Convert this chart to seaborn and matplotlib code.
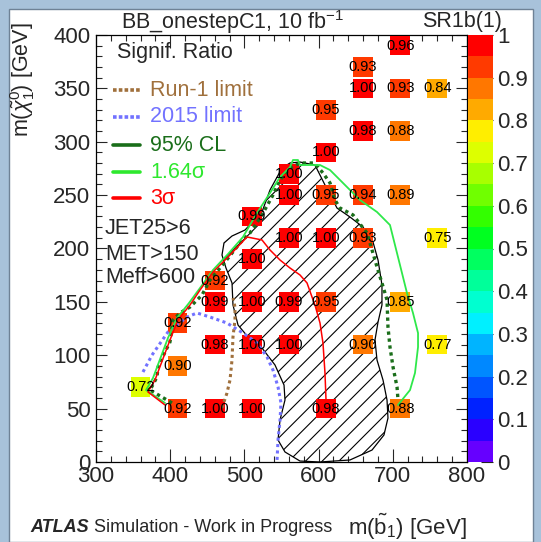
import numpy as np
import pandas as pd
import matplotlib
matplotlib.use("Agg")
import matplotlib.pyplot as plt
from matplotlib.colors import ListedColormap, BoundaryNorm
from matplotlib.cm import ScalarMappable
from matplotlib.patches import Rectangle
from matplotlib.lines import Line2D
import seaborn as sns

# ---------------- data ----------------
m_sbottom = [710, 660, 660, 710, 760, 610, 660, 710, 610, 560,
             560, 610, 660, 710, 510, 560, 610, 660, 760, 510,
             460, 460, 510, 560, 610, 710, 410, 460, 510, 560,
             660, 760, 410, 360, 410, 460, 510, 610, 710]
m_neutralino = [390, 370, 350, 350, 350, 330, 310, 310, 290, 270,
                250, 250, 250, 250, 230, 210, 210, 210, 210, 190,
                170, 150, 150, 150, 150, 150, 130, 110, 110, 110,
                110, 110, 90, 70, 50, 50, 50, 50, 50]
signif_ratio = [0.96, 0.93, 1.00, 0.93, 0.84, 0.948, 0.98, 0.88, 1.00, 1.00,
                1.00, 0.948, 0.94, 0.89, 0.99, 1.00, 1.00, 0.93, 0.75, 1.00,
                0.92, 0.99, 1.00, 0.99, 0.948, 0.848, 0.92, 0.98, 1.00, 1.00,
                0.898, 0.77, 0.898, 0.72, 0.92, 1.00, 1.00, 0.98, 0.88]

# hatched (excluded) region outline
hatch_x = [550.7, 561.5, 574.9, 595.1, 608.6, 624.8, 642.3, 659.8, 673.3, 680.1,
           685.4, 685.4, 680.1, 676.0, 678.7, 686.8, 692.2, 693.5, 688.1, 672.0,
           642.3, 601.9, 574.9, 554.7, 545.3, 548.0, 554.7, 553.4, 541.2, 523.7,
           504.9, 491.4, 484.6, 483.3, 475.2, 469.8, 472.5, 483.3, 500.8, 523.7,
           534.5]
hatch_y = [275.4, 280.1, 281.0, 278.2, 259.5, 237.9, 229.5, 220.1, 206.1, 189.2,
           165.8, 147.1, 131.1, 114.3, 95.6, 76.8, 58.1, 41.2, 25.3, 11.2,
           1.9, 0.0, 0.9, 9.4, 20.6, 39.3, 58.1, 72.1, 90.9, 106.8,
           117.1, 128.3, 147.1, 167.7, 181.7, 193.9, 205.2, 211.7, 217.3, 234.2,
           254.8]

# 3 sigma contour
sig3_x = [393.0, 370.1, 379.5, 399.7, 410.5, 426.7, 440.2, 457.7, 480.6, 503.5,
          523.7, 534.5, 548.0, 561.5, 574.9, 584.4, 591.1, 595.1, 601.9, 605.9,
          608.6, 610.0]
sig3_y = [53.4, 65.6, 76.8, 114.3, 133.1, 147.1, 161.1, 178.0, 193.9, 210.8,
          208.0, 198.6, 189.2, 181.7, 175.2, 167.7, 154.6, 147.1, 130.2, 111.5,
          83.4, 58.0]

# 1.64 sigma contour
sig164_x = [393.0, 367.4, 376.8, 397.0, 409.2, 425.3, 440.2, 457.7, 477.9, 498.1,
            517.0, 534.5, 548.0, 561.5, 565.5, 572.2, 574.9, 601.9, 615.4, 628.8,
            642.3, 655.8, 678.7, 696.2, 709.7, 719.1, 727.2, 734.0, 734.0, 729.9,
            723.2, 712.4, 707.0]
sig164_y = [55.3, 67.4, 78.7, 116.2, 134.9, 148.9, 163.0, 179.9, 194.8, 210.8,
            233.3, 252.0, 267.0, 276.3, 282.9, 282.9, 278.2, 278.2, 273.5, 264.2,
            254.8, 245.4, 234.2, 222.0, 184.5, 158.3, 139.6, 120.8, 107.7, 83.4,
            67.4, 58.1, 53.4]

# 95% CL contour
cl95_x = [402.4, 372.8, 382.2, 383.6, 393.0, 399.7, 403.8, 413.2, 426.7, 442.9,
          453.6, 473.9, 494.1, 507.5, 523.7, 538.5, 548.0, 561.5, 574.9, 592.5,
          599.2, 605.9, 615.4, 622.1, 628.8, 646.4, 665.2, 672.0, 678.7, 685.4,
          692.2, 693.5, 696.2, 700.3, 705.7, 707.0]
cl95_y = [55.3, 67.4, 79.6, 89.0, 103.0, 112.4, 133.0, 139.6, 145.2, 156.4,
          170.5, 187.4, 205.2, 214.5, 231.4, 250.1, 264.2, 275.4, 280.1, 280.1,
          276.3, 270.7, 261.4, 245.4, 237.9, 231.4, 214.5, 198.6, 182.7, 167.7,
          151.8, 126.5, 107.7, 89.0, 70.3, 58.1]

# Run-1 limit
run1_x = [469.8, 476.5, 480.6, 483.3, 484.6, 487.3, 487.3, 484.6]
run1_y = [50.6, 64.6, 76.8, 95.6, 117.1, 133.0, 145.2, 153.6]

# 2015 limit
lim2015_x = [363.3, 375.5, 397.0, 422.6, 436.1, 453.6, 476.5, 498.1, 517.0, 530.5,
             538.5, 545.3, 549.3, 548.0, 545.3, 543.9]
lim2015_y = [84.3, 100.2, 121.8, 135.8, 139.6, 135.8, 130.2, 120.8, 111.5, 98.4,
             86.2, 70.3, 55.3, 39.3, 20.6, 0.0]

x_ticks = [300, 400, 500, 600, 700, 800]
y_ticks = [0, 50, 100, 150, 200, 250, 300, 350, 400]
cbar_ticks = [0, 0.1, 0.2, 0.3, 0.4, 0.5, 0.6, 0.7, 0.8, 0.9, 1.0]
cbar_ticklabels = ["0", "0.1", "0.2", "0.3", "0.4", "0.5", "0.6", "0.7", "0.8", "0.9", "1"]

palette_colors = ["#6600ff", "#2a00ff", "#0022ff", "#0055ff", "#0088ff",
                  "#00b4ff", "#00f0ff", "#00ffd0", "#00ff9a", "#00ff60",
                  "#00ff20", "#33ff00", "#70ff00", "#a8ff00", "#ddff00",
                  "#ffee00", "#ffaa00", "#ff7700", "#ff3a00", "#ff0000"]

# ---------------- style ----------------
sns.set_style("ticks")
plt.rcParams["font.family"] = ["Liberation Sans", "DejaVu Sans"]
plt.rcParams["mathtext.fontset"] = "custom"
plt.rcParams["mathtext.rm"] = "Liberation Sans"
plt.rcParams["mathtext.it"] = "Liberation Sans:italic"
plt.rcParams["mathtext.bf"] = "Liberation Sans:bold"
plt.rcParams["hatch.linewidth"] = 0.8

W, H = 541, 542
fig = plt.figure(figsize=(W / 100, H / 100), dpi=100)
fig.patch.set_facecolor("#a8c2da")
fig.patches.append(Rectangle((9 / W, 0), (533 - 9) / W, (H - 9) / H,
                             transform=fig.transFigure, facecolor="white",
                             edgecolor="#6f8296", linewidth=1.0, zorder=-10))

ax = fig.add_axes([96 / W, 80 / H, 371 / W, 427 / H])
cax = fig.add_axes([468 / W, 80 / H, 25 / W, 427 / H])
ax.set_facecolor("none")

cmap = ListedColormap(palette_colors)
bounds = np.linspace(0, 1, 21)
norm = BoundaryNorm(bounds, cmap.N)

df = pd.DataFrame({"m_sbottom": m_sbottom, "m_chi": m_neutralino, "ratio": signif_ratio})
pal = {v: cmap(norm(v)) for v in sorted(set(signif_ratio))}

# hatched region
ax.fill(hatch_x, hatch_y, facecolor="none", edgecolor="black", hatch="//",
        linewidth=0.9, zorder=2)

sns.scatterplot(data=df, x="m_sbottom", y="m_chi", hue="ratio", palette=pal,
                marker="s", s=200, linewidth=0, legend=False, ax=ax, zorder=3)

# contours
ax.plot(run1_x, run1_y, color="#a0703c", lw=2.2, linestyle=(0, (1, 1.1)), zorder=4)
ax.plot(lim2015_x, lim2015_y, color="#7272ff", lw=2.2, linestyle=(0, (1, 1.1)), zorder=4)
ax.plot(cl95_x, cl95_y, color="#1a6e1a", lw=2.4, linestyle=(0, (1, 1.1)), zorder=4)
ax.plot(sig164_x, sig164_y, color="#2ee84a", lw=1.3, zorder=4)
ax.plot(sig3_x, sig3_y, color="#ff0000", lw=1.1, zorder=4)

# value labels
for xv, yv, v in zip(m_sbottom, m_neutralino, signif_ratio):
    ax.text(xv, yv, f"{v:.2f}", ha="center", va="center", fontsize=10.5,
            color="black", zorder=6)

ax.set_xlim(300, 800)
ax.set_ylim(0, 400)
ax.set_xticks(x_ticks)
ax.set_yticks(y_ticks)
ax.set_xticks(np.arange(300, 801, 20), minor=True)
ax.set_yticks(np.arange(0, 401, 10), minor=True)
ax.set_xlabel("")
ax.set_ylabel("")
ax.tick_params(axis="x", which="major", direction="in", length=9.2, width=0.8,
               top=True, labelsize=16, pad=3)
ax.tick_params(axis="x", which="minor", direction="in", length=4.6, width=0.8, top=True)
ax.tick_params(axis="y", which="major", direction="in", length=8, width=0.8,
               right=True, labelsize=16, pad=4)
ax.tick_params(axis="y", which="minor", direction="in", length=4, width=0.8, right=True)
for sp in ax.spines.values():
    sp.set_visible(True)
    sp.set_linewidth(0.9)
    sp.set_color("black")

# legend block (manual, ROOT style)
tr = ax.transAxes
fs = 15.5
ax.text(0.0566, 0.958, "Signif. Ratio", transform=tr, fontsize=fs, va="center", ha="left", zorder=7)
leg = [("Run-1 limit", "#a0703c", (0, (1, 0.6)), 0.871),
       ("2015 limit", "#7272ff", (0, (1, 0.6)), 0.808),
       ("95% CL", "#1a6e1a", "-", 0.742),
       ("1.64σ", "#2ee82e", "-", 0.679),
       ("3σ", "#ff0000", "-", 0.618)]
for lab, col, ls, yy in leg:
    ax.add_line(Line2D([0.046, 0.119], [yy, yy], transform=tr, color=col, lw=2.6,
                       linestyle=ls, zorder=7))
    ax.text(0.1456, yy, lab, transform=tr, fontsize=fs, va="center", ha="left",
            color=col, zorder=7)
for lab, yy in [("JET25>6", 0.548), ("MET>150", 0.485), ("Meff>600", 0.431)]:
    ax.text(0.0243, yy, lab, transform=tr, fontsize=fs, va="center", ha="left", zorder=7)

# colorbar
sm = ScalarMappable(norm=norm, cmap=cmap)
cb = fig.colorbar(sm, cax=cax, ticks=cbar_ticks)
cb.outline.set_visible(False)
cb.ax.set_yticklabels(cbar_ticklabels)
cb.ax.tick_params(direction="in", length=9, width=0.8, labelsize=16, pad=3,
                  right=True, left=False, color="#222222")
cb.ax.minorticks_off()

# titles and labels
fig.text(233 / W, 1 - 22 / H, "BB_onestepC1, 10 fb$^{-1}$", ha="center", va="center", fontsize=15.5)
fig.text(502 / W, 1 - 22 / H, "SR1b(1)", ha="right", va="center", fontsize=15.5)
fig.text(467 / W, 1 - 527 / H, r"m($\tilde{\mathrm{b}}_{1}$) [GeV]", ha="right", va="center", fontsize=16)
fig.text(23 / W, 1 - 80 / H, r"m($\tilde{\chi}^{0}_{1}$) [GeV]", ha="center", va="center",
         rotation=90, fontsize=15.5)
fig.text(30 / W, 1 - 528 / H, "ATLAS", ha="left", va="center", fontsize=13,
         fontweight="bold", fontstyle="italic")
fig.text(94 / W, 1 - 528 / H, "Simulation - Work in Progress", ha="left", va="center", fontsize=13)

fig.savefig("out.png", dpi=100, facecolor=fig.get_facecolor())
